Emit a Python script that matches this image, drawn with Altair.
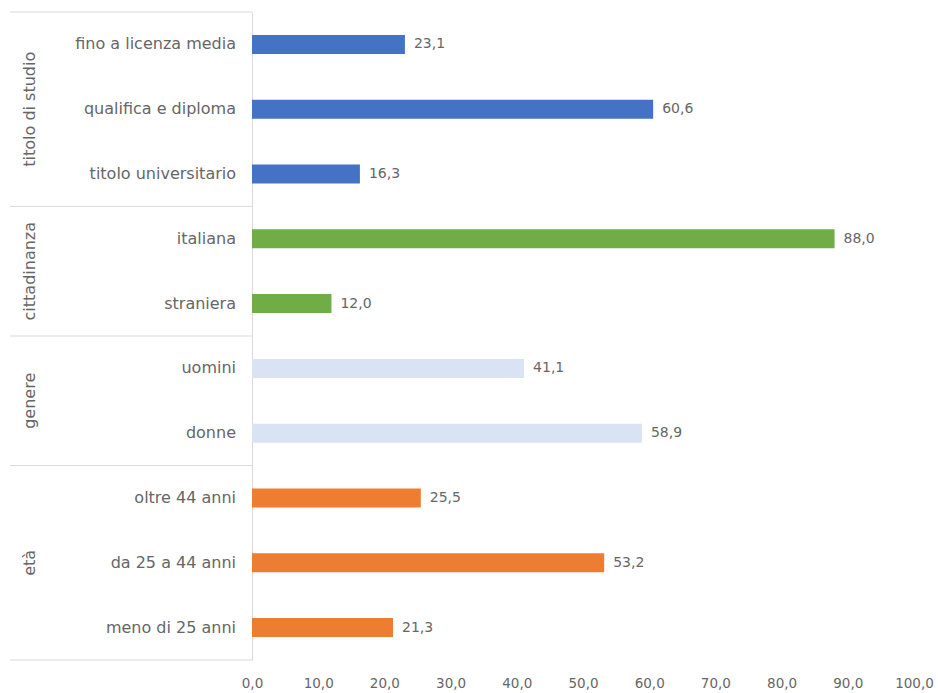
import altair as alt
import pandas as pd

groups = ["titolo di studio"] * 3 + ["cittadinanza"] * 2 + ["genere"] * 2 + ["età"] * 3
categories = [
    "fino a licenza media", "qualifica e diploma", "titolo universitario",
    "italiana", "straniera",
    "uomini", "donne",
    "oltre 44 anni", "da 25 a 44 anni", "meno di 25 anni",
]
values = [23.1, 60.6, 16.3, 88.0, 12.0, 41.1, 58.9, 25.5, 53.2, 21.3]
group_names = ["titolo di studio", "cittadinanza", "genere", "età"]
group_colors = ["#4472C4", "#70AD47", "#DAE3F3", "#ED7D31"]
x_ticks = [0, 10, 20, 30, 40, 50, 60, 70, 80, 90, 100]

FONT = "DejaVu Sans"
TXT = "#666666"
LINE = "#D9D9D9"

df = pd.DataFrame({"group": groups, "category": categories, "value": values,
                   "row": list(range(len(categories)))})

g = df.groupby("group", sort=False)["row"]
bounds = sorted(set([r - 0.5 for r in g.min()] + [r + 0.5 for r in g.max()]))
bdf = pd.DataFrame({"b": bounds})
gdf = pd.DataFrame({"group": list(g.mean().index), "mid": list(g.mean().values)})

yscale = alt.Scale(domain=[-0.5, len(categories) - 0.5], reverse=True, nice=False,
                   zero=False, padding=0)
xscale = alt.Scale(domain=[0, 100], nice=False, padding=0)

base = alt.Chart(df)

bars = base.mark_bar(orient="horizontal", size=19).encode(
    x=alt.X("value:Q", scale=xscale, axis=alt.Axis(
        values=x_ticks, title=None, domain=False, ticks=False, grid=False,
        labelFlush=False,
        labelExpr="replace(format(datum.value, '.1f'), '.', ',')",
        labelColor=TXT, labelFont=FONT, labelFontSize=13.5, labelPadding=16)),
    y=alt.Y("row:Q", scale=yscale, axis=alt.Axis(
        title=None, labels=False, ticks=False, grid=False, domain=True,
        domainColor=LINE, domainWidth=1)),
    color=alt.Color("group:N", scale=alt.Scale(domain=group_names, range=group_colors), legend=None),
)

vlabels = base.transform_calculate(
    lab="replace(format(datum.value, '.1f'), '.', ',')"
).mark_text(align="left", baseline="middle", dx=9, font=FONT, fontSize=14, color=TXT).encode(
    x=alt.X("value:Q", scale=xscale),
    y=alt.Y("row:Q", scale=yscale),
    text="lab:N",
)

clabels = base.mark_text(align="right", baseline="middle", dx=-16, font=FONT, fontSize=16, color=TXT).encode(
    x=alt.value(0),
    y=alt.Y("row:Q", scale=yscale),
    text="category:N",
)

glabels = alt.Chart(gdf).mark_text(angle=270, align="center", baseline="middle",
                                   font=FONT, fontSize=16, color=TXT).encode(
    x=alt.value(-222),
    y=alt.Y("mid:Q", scale=yscale),
    text="group:N",
)

seps = alt.Chart(bdf).mark_rule(color=LINE, strokeWidth=1).encode(
    x=alt.value(-242), x2=alt.value(0),
    y=alt.Y("b:Q", scale=yscale),
)

chart = alt.layer(seps, bars, vlabels, clabels, glabels).properties(
    width=662, height=648,
    autosize=alt.AutoSizeParams(type="none"),
    padding={"left": 252, "top": 12, "right": 24, "bottom": 33},
).configure_view(stroke=None)

chart.save("out.html", embed_options={"renderer": "svg", "actions": False})
